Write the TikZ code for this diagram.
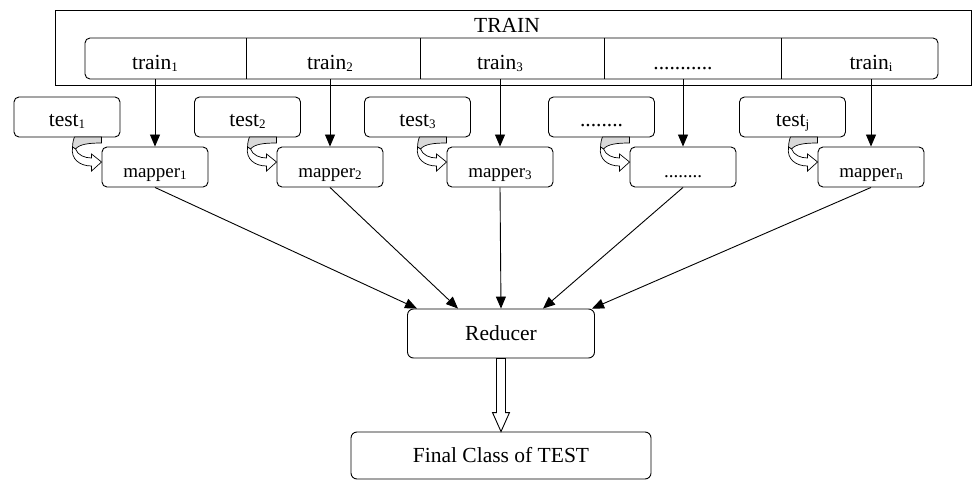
\documentclass[tikz,border=0pt]{standalone}
\usepackage{fontspec}
\setmainfont{Liberation Serif}
\usetikzlibrary{arrows.meta}
\usetikzlibrary{calc}

\newcommand{\lowidx}[1]{\raisebox{-2pt}{\fontsize{13}{13}\selectfont #1}}

\tikzset{
  smallbox/.style={draw,rounded corners=5pt,minimum width=106pt,minimum height=40pt,inner sep=0pt,text height=20pt,text depth=0pt},
  mapbox/.style={smallbox,font=\fontsize{19}{22}\selectfont},
  bigbox/.style={draw,rounded corners=6pt,inner sep=0pt},
  cell/.style={inner sep=0pt,minimum height=41pt,text height=23pt,text depth=0pt},
  arr/.style={-{Triangle[length=12pt,width=10pt]}},
  turnarrow/.pic={
    \filldraw[fill=gray!30,line width=0.7pt] (-27,-25) -- (0,-25) -- (0,-19) .. controls (-12,-19) and (-22,-18) .. (-26,-13) -- (-29,-15) .. controls (-29,-19) and (-28,-23) .. (-27,-25) -- cycle;
    \filldraw[fill=white,line width=0.7pt] (-26,-13) .. controls (-24,-7) and (-17,-4) .. (-10,-4) -- (-10,-8) -- (0,0) -- (-10,9) -- (-10,4) .. controls (-22,4) and (-31,-3) .. (-29,-15) -- cycle;
  }
}

\begin{document}
\begin{tikzpicture}[x=1pt,y=-1pt,line width=0.9pt,font=\fontsize{21.5}{24}\selectfont]
\useasboundingbox (0,0) rectangle (973,481);

% training set split in blocks
\draw (55,10) rectangle (971,85);
\node[anchor=base] (trainlbl) at (507,33) {TRAIN};
\node[bigbox,rounded corners=5pt,minimum width=853pt,minimum height=41pt] (row) at (511.5,58.5) {};
\foreach \x in {246,420,604,781}
  \draw (\x,38) -- (\x,79);

\node[cell] (tr1) at (155,58.5) {train\lowidx{1}};
\node[cell] (tr2) at (330,58.5) {train\lowidx{2}};
\node[cell] (tr3) at (500,58.5) {train\lowidx{3}};
\node[cell] (tr4) at (683,58.5) {...........};
\node[cell] (tr5) at (871,58.5) {train\lowidx{i}};

% test blocks
\node[smallbox] (t1) at (67,117) {test\lowidx{1}};
\node[smallbox] (t2) at (247.5,117) {test\lowidx{2}};
\node[smallbox] (t3) at (417.5,117) {test\lowidx{3}};
\node[smallbox] (t4) at (601.5,117) {........};
\node[smallbox] (t5) at (792.5,117) {test\lowidx{j}};

% mappers
\node[mapbox] (m1) at (155,167) {mapper\lowidx{1}};
\node[mapbox] (m2) at (330,167) {mapper\lowidx{2}};
\node[mapbox] (m3) at (500,167) {mapper\lowidx{3}};
\node[mapbox] (m4) at (683,167) {........};
\node[mapbox] (m5) at (871,167) {mapper\lowidx{n}};

\foreach \i in {1,...,5} {
  \draw[arr] (tr\i.south) -- (m\i.north);
  \pic at ([yshift=5pt]m\i.west) {turnarrow};
}

% reducer and result
\node[bigbox,minimum width=187pt,minimum height=49pt] (red) at (501,333.5) {Reducer};
\node[bigbox,minimum width=300pt,minimum height=47pt] (fin) at (501,455.5) {Final Class of TEST};

\draw[arr] (m1.south) -- ([xshift=-84pt]red.north);
\draw[arr] (m2.south) -- ([xshift=-43pt]red.north);
\draw[arr] (m3.south) -- (red.north);
\draw[arr] (m4.south) -- ([xshift=42pt]red.north);
\draw[arr] (m5.south) -- ([xshift=91pt]red.north);

\draw[fill=white] ($(red.south)+(-4.5,0)$) -- ($(fin.north)+(-4.5,-19)$) -- ($(fin.north)+(-8.5,-19)$) -- (fin.north) -- ($(fin.north)+(8.5,-19)$) -- ($(fin.north)+(4.5,-19)$) -- ($(red.south)+(4.5,0)$) -- cycle;

\end{tikzpicture}
\end{document}
